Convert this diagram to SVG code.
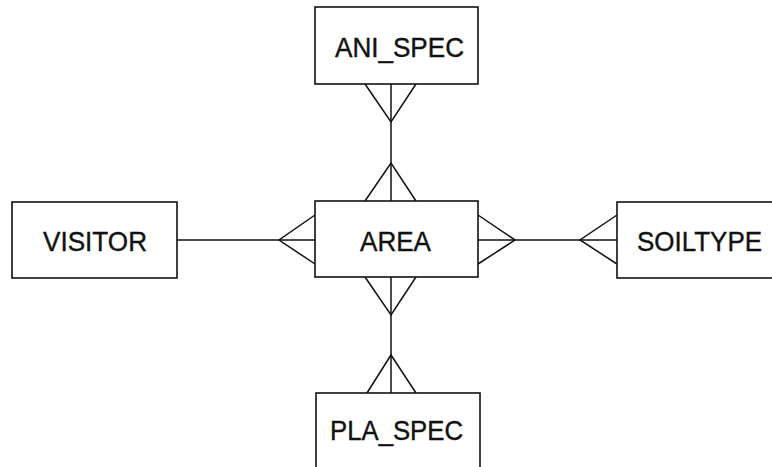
<svg xmlns="http://www.w3.org/2000/svg" width="772" height="467" viewBox="0 0 772 467">
  <style>
    .box { fill: #fff; stroke: #111; stroke-width: 1.6; }
    .edge { fill: none; stroke: #111; stroke-width: 1.5; stroke-linejoin: miter; }
    .lbl { font-family: "Liberation Sans", Arial, sans-serif; font-size: 28px; fill: #111; stroke: #111; stroke-width: 0.4; }
  </style>
  <rect width="772" height="467" fill="#fff"/>

  <g id="connectors">
    <!-- ANI_SPEC to AREA -->
    <path class="edge" d="M391,84 V201"/>
    <path class="edge" d="M365,84 L391,122 L416,84"/>
    <path class="edge" d="M365,201 L391,163 L416,201"/>
    <!-- VISITOR to AREA -->
    <path class="edge" d="M177,240 H315"/>
    <path class="edge" d="M315,215 L279,240 L315,264"/>
    <!-- AREA to SOILTYPE -->
    <path class="edge" d="M478,240 H617"/>
    <path class="edge" d="M478,215 L515,240 L478,264"/>
    <path class="edge" d="M617,215 L580,240 L617,264"/>
    <!-- AREA to PLA_SPEC -->
    <path class="edge" d="M391,277 V393"/>
    <path class="edge" d="M365,277 L391,315 L416,277"/>
    <path class="edge" d="M367,393 L391,355 L416,393"/>
  </g>

  <g id="ani_spec">
    <rect class="box" x="315" y="7" width="163" height="77"/>
    <text class="lbl" x="335" y="57" textLength="129" lengthAdjust="spacingAndGlyphs">ANI_SPEC</text>
  </g>

  <g id="visitor">
    <rect class="box" x="12" y="202" width="165" height="76"/>
    <text class="lbl" x="43" y="251" textLength="104" lengthAdjust="spacingAndGlyphs">VISITOR</text>
  </g>

  <g id="area">
    <rect class="box" x="315" y="201" width="163" height="76"/>
    <text class="lbl" x="360" y="251" textLength="71" lengthAdjust="spacingAndGlyphs">AREA</text>
  </g>

  <g id="soiltype">
    <rect class="box" x="617" y="202" width="170" height="76"/>
    <text class="lbl" x="637" y="251" textLength="125" lengthAdjust="spacingAndGlyphs">SOILTYPE</text>
  </g>

  <g id="pla_spec">
    <rect class="box" x="316" y="393" width="164" height="90"/>
    <text class="lbl" x="330" y="440" textLength="133" lengthAdjust="spacingAndGlyphs">PLA_SPEC</text>
  </g>
</svg>
